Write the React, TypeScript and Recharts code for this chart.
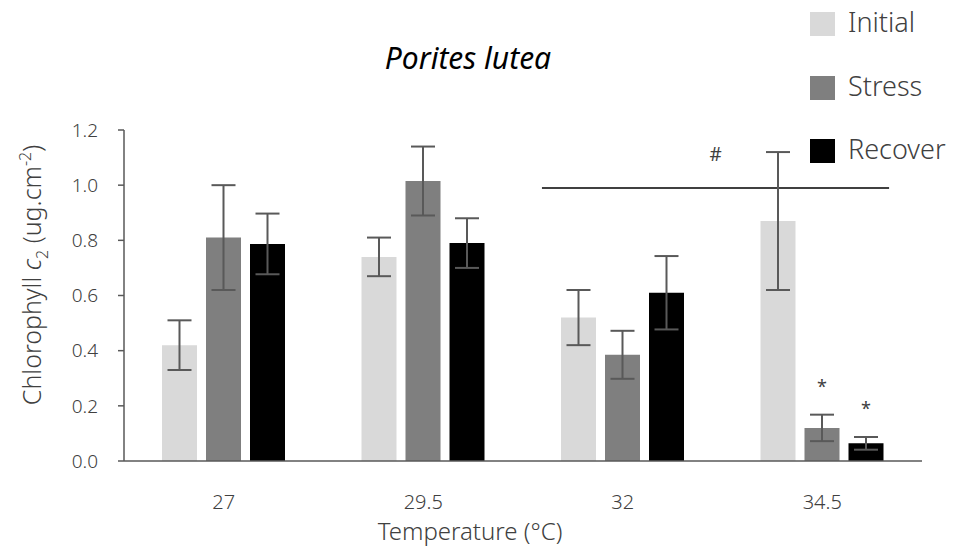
import { BarChart, Bar, XAxis, YAxis, ErrorBar, LabelList, ReferenceLine } from "recharts";

const temperatures = ["27", "29.5", "32", "34.5"];
const initialMeans = [0.42, 0.74, 0.52, 0.87];
const initialErrors = [0.09, 0.07, 0.1, 0.25];
const stressMeans = [0.81, 1.015, 0.385, 0.12];
const stressErrors = [0.19, 0.125, 0.087, 0.048];
const recoverMeans = [0.787, 0.79, 0.61, 0.064];
const recoverErrors = [0.11, 0.09, 0.133, 0.023];
const starred = ["34.5"];
const yTicks = [0, 0.2, 0.4, 0.6, 0.8, 1.0, 1.2];
// "#" bar: from 32 to 34.5, stretched past the centres by these band fractions
const hashFrom = "32";
const hashTo = "34.5";
const hashExtend = [0.405, 0.335];
const hashLevel = 0.99;

const seriesInfo = [
  { key: "initial", name: "Initial", color: "#d9d9d9" },
  { key: "stress", name: "Stress", color: "#7f7f7f" },
  { key: "recover", name: "Recover", color: "#000000" },
];

const data = temperatures.map((t, i) => ({
  temp: t,
  initial: initialMeans[i],
  initialErr: initialErrors[i],
  stress: stressMeans[i],
  stressErr: stressErrors[i],
  recover: recoverMeans[i],
  recoverErr: recoverErrors[i],
}));

const font = "'Noto Sans', 'Open Sans', sans-serif";
const textColor = "#404040";

function starLabel(errors: number[]) {
  return (props: any) => {
    const { x, y, width, height, value, index } = props;
    if (!starred.includes(temperatures[index])) return null;
    const pxPerUnit = height / value;
    const top = y - errors[index] * pxPerUnit;
    return (
      <text x={x + width / 2} y={top - 22} textAnchor="middle" fontSize={18} fill="#404040" fontFamily={font}>
        *
      </text>
    );
  };
}

function HashLine(props: any) {
  const { x1, y1, x2, y2 } = props;
  const band = (x2 - x1) / (temperatures.indexOf(hashTo) - temperatures.indexOf(hashFrom));
  const left = x1 - hashExtend[0] * band;
  const right = x2 + hashExtend[1] * band;
  return (
    <g>
      <line x1={left} y1={y1} x2={right} y2={y2} stroke="#000" strokeWidth={1.4} />
      <text x={(left + right) / 2} y={y1 - 27} textAnchor="middle" fontSize={19} fill={textColor} fontFamily={font}>
        #
      </text>
    </g>
  );
}

function LegendBox() {
  return (
    <div style={{ position: "absolute", left: 810, top: 12, fontFamily: font, color: textColor }}>
      {seriesInfo.map((s) => (
        <div key={s.key} style={{ position: "relative", height: 63.5 }}>
          <span style={{ position: "absolute", left: 0, top: 0, width: 25, height: 24, background: s.color }} />
          <span style={{ position: "absolute", left: 38, top: -9, fontSize: 27, fontWeight: 300, whiteSpace: "nowrap" }}>
            {s.name}
          </span>
        </div>
      ))}
    </div>
  );
}

function YLabel() {
  return (
    <text transform="translate(41, 275) rotate(-90)" textAnchor="middle" fontSize={25} fill={textColor} fontFamily={font} fontWeight={300}>
      Chlorophyll <tspan fontStyle="italic">c</tspan>
      <tspan fontSize={16} dy={7}>2</tspan>
      <tspan dy={-7}> (ug.cm</tspan>
      <tspan fontSize={16} dy={-10}>-2</tspan>
      <tspan dy={10}>)</tspan>
    </text>
  );
}

export default function App() {
  return (
    <div style={{ position: "relative", width: 954, height: 552, background: "#fff" }}>
      <style>{`body{margin:0}`}</style>
      <BarChart
        width={954}
        height={552}
        data={data}
        margin={{ top: 130, right: 32, bottom: 61, left: 0 }}
        barSize={35}
        barGap={9}
      >
        <text x={468} y={69} textAnchor="middle" fontSize={30} fontStyle="italic" fill="#000" fontFamily={font}>
          Porites lutea
        </text>
        <YLabel />
        <text x={470} y={540} textAnchor="middle" fontSize={24} fill={textColor} fontFamily={font} fontWeight={300}>
          Temperature (°C)
        </text>
        <XAxis
          dataKey="temp"
          height={30}
          tickLine={false}
          axisLine={{ stroke: "#595959", strokeWidth: 1.5 }}
          tick={{ fontSize: 20, fill: textColor, fontFamily: font, fontWeight: 300 }}
          tickMargin={28}
        />
        <YAxis
          width={124}
          domain={[0, 1.2]}
          ticks={yTicks}
          tickFormatter={(v: number) => v.toFixed(1)}
          axisLine={{ stroke: "#595959", strokeWidth: 1.5 }}
          tickLine={{ stroke: "#595959", strokeWidth: 1.5 }}
          tickSize={6}
          tickMargin={20}
          tick={{ fontSize: 19, fill: textColor, fontFamily: font, fontWeight: 300 }}
        />
        <ReferenceLine
          segment={[
            { x: hashFrom, y: hashLevel },
            { x: hashTo, y: hashLevel },
          ]}
          shape={<HashLine />}
        />
        {seriesInfo.map((s) => (
          <Bar key={s.key} dataKey={s.key} name={s.name} fill={s.color} isAnimationActive={false}>
            <ErrorBar dataKey={`${s.key}Err`} width={12} stroke="#595959" strokeWidth={2} />
            {s.key !== "initial" && (
              <LabelList
                dataKey={s.key}
                content={starLabel(s.key === "stress" ? stressErrors : recoverErrors)}
              />
            )}
          </Bar>
        ))}
      </BarChart>
      <LegendBox />
    </div>
  );
}
